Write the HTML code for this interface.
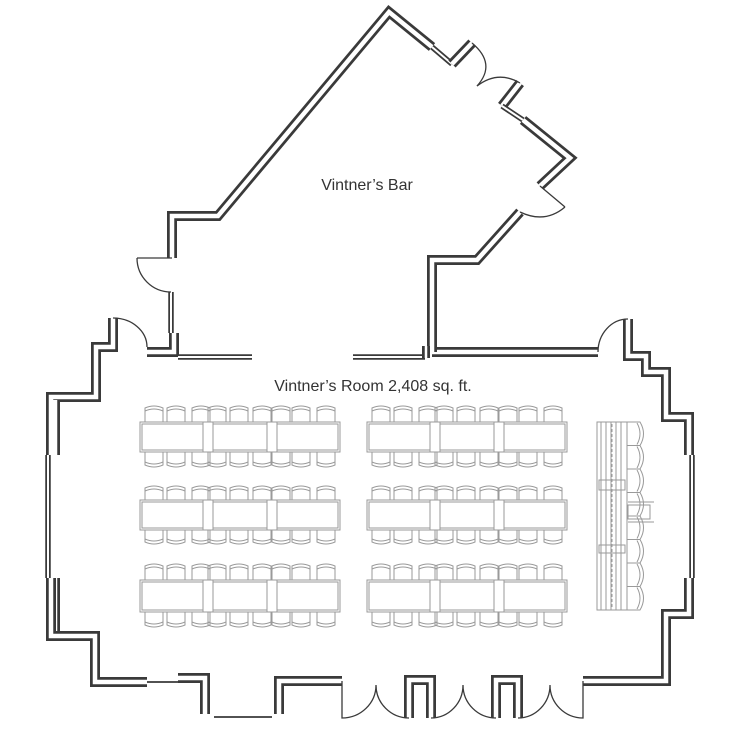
<!DOCTYPE html>
<html><head><meta charset="utf-8"><style>
html,body{margin:0;padding:0;background:#fff;}
svg{display:block;}
text{font-family:"Liberation Sans",sans-serif;fill:#333;}
</style></head><body>
<svg id="s" width="742" height="745" viewBox="0 0 742 745" xmlns="http://www.w3.org/2000/svg">
<rect width="742" height="745" fill="#fff"/>
<g id="furn" fill="none" stroke="#9a9a9a" stroke-width="1"></g>
<g id="walls" fill="none" stroke-linejoin="miter" stroke-linecap="butt"></g>
<g fill="none" stroke="#3a3a3a" stroke-width="1.3">
<path d="M113,318 A34,29 0 0 1 147,347"/>
<path d="M598,352 A30,33 0 0 1 628,319"/>
<path d="M137,258 L172,258"/>
<path d="M137,258 A34,34 0 0 0 171,292"/>
<path d="M472,43 Q497,64 477,86"/>
<path d="M477,86 Q498,70 520,83"/>
<path d="M540,186 L565,207"/>
<path d="M565,207 Q545,224 520,212"/>
<path d="M342,681 L342,718 A34,33 0 0 0 376,685 A33,33 0 0 0 409,718"/>
<path d="M431,718 A32,33 0 0 0 463,685 A33,33 0 0 0 496,718"/>
<path d="M518,718 A32,33 0 0 0 550,685 A33,33 0 0 0 583,718 L583,681"/>
<path d="M214,717 L272,717" stroke-width="1.8"/>
<path d="M147,682 L178,682" stroke-width="1.8"/>
</g>
<text x="367" y="190" font-size="16" text-anchor="middle" fill="#333">Vintner’s Bar</text>
<text x="373" y="391" font-size="16" text-anchor="middle" fill="#333">Vintner’s Room 2,408 sq. ft.</text>
</svg>
<script>
var NS="http://www.w3.org/2000/svg";
var W=document.getElementById('walls'),F=document.getElementById('furn');
function el(p,tag,a){var e=document.createElementNS(NS,tag);for(var k in a)e.setAttribute(k,a[k]);p.appendChild(e);return e;}
function thick(pts,w){w=w||10;el(W,'polyline',{points:pts,stroke:'#3a3a3a','stroke-width':w});el(W,'polyline',{points:pts,stroke:'#fff','stroke-width':w-5.5});}
function thin(pts){el(W,'polyline',{points:pts,stroke:'#3a3a3a','stroke-width':5.5});el(W,'polyline',{points:pts,stroke:'#fff','stroke-width':2});}
// main room
thick("113,318 113,347 96,347 96,397 51,397 51,455");
thick("53,400 53,455",14);
thin("48,455 48,578");
thick("53,578 53,634",14);
thick("51,578 51,636 95,636 95,682 147,682");
thick("178,678 205,678 205,714");
thick("279,714 279,681 342,681");
thick("409,718 409,680 431,680 431,718");
thick("496,718 496,680 518,680 518,718");
thick("583,681 666,681 666,614 689,614 689,578");
thin("692,578 692,455");
thick("689,455 689,417 666,417 666,372 646,372 646,356 628,356 628,319");
thick("432,352 598,352");
// bar
thick("172,258 172,216 218,216 389,12 432,47");
thin("432,47 452,64");
thick("452,64 472,43");
thick("520,83 502,106");
thin("502,106 523,120");
thick("523,120 570,158 540,186");
thick("520,212 477,260 432,260 432,352");
thin("171,292 171,333");
thick("147,352 174,352 174,333");
thin("178,357 252,357");
thin("353,357 425,357");
thick("426,346 426,358",8);
// tables
function block(ox){
 var cx=[145,167,192,208,230,253,272,292,317];
 var rows=[[422,452,405,468],[500,530,485,545],[580,612,563,628]];
 rows.forEach(function(r){
  cx.forEach(function(x){
   x+=ox;
   el(F,'path',{d:'M'+x+','+r[1]+' L'+x+','+(r[3]-3)+' Q'+(x+9)+','+(r[3]+1)+' '+(x+18)+','+(r[3]-3)+' L'+(x+18)+','+r[1]});
   el(F,'path',{d:'M'+x+','+(r[3]-6)+' Q'+(x+9)+','+(r[3]-2)+' '+(x+18)+','+(r[3]-6)});
   el(F,'path',{d:'M'+x+','+r[0]+' L'+x+','+(r[2]+3)+' Q'+(x+9)+','+(r[2]-1)+' '+(x+18)+','+(r[2]+3)+' L'+(x+18)+','+r[0]});
   el(F,'path',{d:'M'+x+','+(r[2]+6)+' Q'+(x+9)+','+(r[2]+2)+' '+(x+18)+','+(r[2]+6)});
  });
  el(F,'rect',{x:140+ox,y:r[0],width:200,height:r[1]-r[0],fill:'#fff'});
  el(F,'rect',{x:142+ox,y:r[0]+2,width:196,height:r[1]-r[0]-4});
  el(F,'rect',{x:203+ox,y:r[0],width:10,height:r[1]-r[0],fill:'#fff'});
  el(F,'rect',{x:267+ox,y:r[0],width:10,height:r[1]-r[0],fill:'#fff'});
 });
}
block(0);block(227);
// stage
el(F,'rect',{x:597,y:422,width:30,height:188});
[601,606,611,616,621].forEach(function(x){el(F,'line',{x1:x,y1:422,x2:x,y2:610});});
el(F,'line',{x1:612,y1:424,x2:612,y2:608,'stroke-dasharray':'3,2'});
el(F,'rect',{x:599,y:480,width:26,height:10});
el(F,'rect',{x:599,y:545,width:26,height:8});
for(var i=0;i<8;i++){var y=422+i*23.5;
 el(F,'path',{d:'M627,'+y+' L640,'+y+' Q647,'+(y+11.75)+' 640,'+(y+23.5)+' L627,'+(y+23.5)});
 el(F,'path',{d:'M637,'+(y+1)+' Q643,'+(y+11.75)+' 637,'+(y+22.5)});}
el(F,'rect',{x:628,y:505,width:22,height:14});
el(F,'line',{x1:628,y1:502,x2:654,y2:502});el(F,'line',{x1:628,y1:522,x2:654,y2:522});
</script>
</body></html>
